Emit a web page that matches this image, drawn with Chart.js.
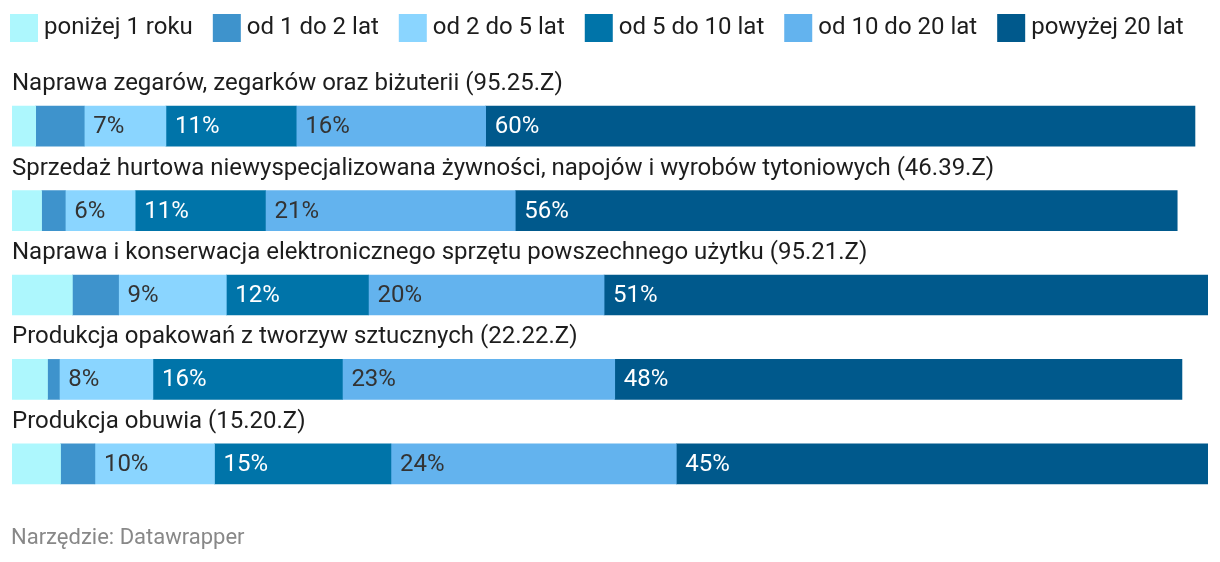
<!DOCTYPE html>
<html>
<head>
<meta charset="utf-8">
<script src="https://cdn.jsdelivr.net/npm/chart.js@4.4.1/dist/chart.umd.min.js"></script>
<style>
  html, body { margin: 0; padding: 0; background: #fff; }
  #wrap { width: 1220px; height: 562px; }
</style>
</head>
<body>
<div id="wrap"><canvas id="myChart" width="1220" height="562"></canvas></div>
<script>
const CATEGORIES = [
  "Naprawa zegarów, zegarków oraz biżuterii (95.25.Z)",
  "Sprzedaż hurtowa niewyspecjalizowana żywności, napojów i wyrobów tytoniowych (46.39.Z)",
  "Naprawa i konserwacja elektronicznego sprzętu powszechnego użytku (95.21.Z)",
  "Produkcja opakowań z tworzyw sztucznych (22.22.Z)",
  "Produkcja obuwia (15.20.Z)"
];
const SERIES = ["poniżej 1 roku", "od 1 do 2 lat", "od 2 do 5 lat", "od 5 do 10 lat", "od 10 do 20 lat", "powyżej 20 lat"];
const COLORS = ["#adf7fd", "#3e93cc", "#8ad5ff", "#0074a9", "#63b3ee", "#00598c"];
const LABEL_COLORS = ["#333333", "#333333", "#333333", "#ffffff", "#333333", "#ffffff"];

// one array per series, in category order
const UNDER_1 = [2.0, 2.5, 5.1, 3.0, 4.1];
const FROM_1_TO_2 = [4.1, 2.0, 3.9, 1.0, 2.9];
const FROM_2_TO_5 = [6.9, 5.9, 9.1, 7.9, 10.1];
const FROM_5_TO_10 = [11.0, 11.0, 12.0, 16.0, 14.9];
const FROM_10_TO_20 = [16.0, 21.1, 19.9, 23.0, 24.1];
const OVER_20 = [59.9, 55.9, 51.0, 47.9, 44.9];
const VALUES = [UNDER_1, FROM_1_TO_2, FROM_2_TO_5, FROM_5_TO_10, FROM_10_TO_20, OVER_20];

const FONT = "Roboto, 'Noto Sans', sans-serif";
const FOOTER = "Narzędzie: Datawrapper";

const overlay = {
  id: "overlay",
  afterDatasetsDraw(chart) {
    const ctx = chart.ctx;
    ctx.save();
    ctx.font = "24px " + FONT;
    ctx.textBaseline = "middle";
    ctx.textAlign = "left";
    chart.data.datasets.forEach((ds, i) => {
      const meta = chart.getDatasetMeta(i);
      meta.data.forEach((bar, j) => {
        const v = ds.data[j];
        if (v < 5.5) return;
        ctx.fillStyle = LABEL_COLORS[i];
        ctx.fillText(Math.round(v) + "%", Math.min(bar.base, bar.x) + 9, bar.y + 1);
      });
    });
    ctx.restore();
  },
  afterDraw(chart) {
    const ctx = chart.ctx;
    ctx.save();
    // category titles above bars
    ctx.font = "24px " + FONT;
    ctx.fillStyle = "#1d1d1d";
    ctx.textBaseline = "alphabetic";
    ctx.textAlign = "left";
    const meta = chart.getDatasetMeta(0);
    meta.data.forEach((bar, j) => {
      ctx.fillText(CATEGORIES[j], 12, bar.y - bar.height / 2 - 16);
    });
    // legend
    let x = 10;
    ctx.textBaseline = "middle";
    chart.data.datasets.forEach((ds) => {
      ctx.fillStyle = ds.backgroundColor;
      ctx.fillRect(x, 14, 28, 28);
      ctx.fillStyle = "#1d1d1d";
      ctx.fillText(ds.label, x + 34, 28);
      x += 34 + ctx.measureText(ds.label).width + 20;
    });
    // footer
    ctx.font = "22px " + FONT;
    ctx.fillStyle = "#888888";
    ctx.textBaseline = "alphabetic";
    ctx.fillText(FOOTER, 11, 544);
    ctx.restore();
  }
};

const data = {
  labels: CATEGORIES,
  datasets: SERIES.map((name, i) => ({
    label: name,
    data: VALUES[i],
    backgroundColor: COLORS[i],
    borderWidth: 0,
    barThickness: 40
  }))
};

const config = {
  type: "bar",
  data: data,
  options: {
    indexAxis: "y",
    responsive: false,
    animation: false,
    layout: { padding: { top: 84, bottom: 56, left: 12, right: 12 } },
    scales: {
      x: { stacked: true, display: false, min: 0, max: 101 },
      y: { stacked: true, display: false }
    },
    plugins: {
      legend: { display: false },
      tooltip: { enabled: false }
    }
  },
  plugins: [overlay]
};

const myChart = new Chart(document.getElementById("myChart"), config);
</script>
</body>
</html>
